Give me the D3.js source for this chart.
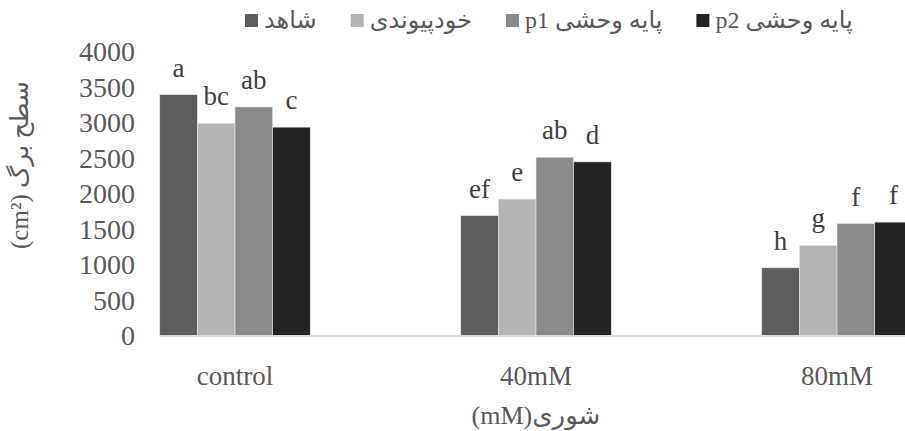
<!DOCTYPE html>
<html>
<head>
<meta charset="utf-8">
<script src="https://cdn.jsdelivr.net/npm/d3@7"></script>
<style>
	body { margin: 0; background: #fff; }
	svg { display: block; }
	svg text { font-family: 'Liberation Serif', 'DejaVu Sans', serif; }
</style>
</head>
<body>
<svg id="chart" width="905" height="431"></svg>
<script>
'use strict'

const categories = ['control', '40mM', '80mM']
const seriesNames = ['شاهد', 'خودپیوندی', 'p1 پایه وحشی', 'p2 پایه وحشی']
const seriesColors = ['#5d5d5d', '#b4b4b4', '#8a8a8a', '#232323']
const values = [
	[3400, 2995, 3225, 2940],
	[1690, 1925, 2515, 2450],
	[955, 1270, 1580, 1600]
]
const letters = [
	['a', 'bc', 'ab', 'c'],
	['ef', 'e', 'ab', 'd'],
	['h', 'g', 'f', 'f']
]
const yTicks = [0, 500, 1000, 1500, 2000, 2500, 3000, 3500, 4000]

const W = 905
const params = {
	fontSize: 27,
	textColor: '#595959',
	letterColor: '#404040',
	axisColor: '#d9d9d9'
}

const svg = d3.select('#chart')

const y = d3.scaleLinear().domain([0, 4000]).range([335.5, 52])
const x0 = d3.scaleBand()
	.domain(categories)
	.range([84.5, 987.5])
	.paddingInner(0.5)
	.paddingOuter(0.25)
const x1 = d3.scaleBand()
	.domain(d3.range(seriesNames.length))
	.range([0, x0.bandwidth()])

// bars
const groups = svg.append('g')
	.selectAll('g')
	.data(categories)
	.join('g')
	.attr('transform', (c) => `translate(${x0(c)},0)`)

groups.selectAll('rect')
	.data((c, i) => values[i].map((v, j) => ({v, j})))
	.join('rect')
	.attr('x', (d) => x1(d.j))
	.attr('y', (d) => y(d.v))
	.attr('width', x1.bandwidth())
	.attr('height', (d) => y(0) - y(d.v))
	.attr('fill', (d) => seriesColors[d.j])
	.attr('stroke', '#e6e6e6')
	.attr('stroke-width', 0.6)

// significance letters
groups.selectAll('text')
	.data((c, i) => values[i].map((v, j) => ({v, j, t: letters[i][j]})))
	.join('text')
	.attr('x', (d) => x1(d.j) + x1.bandwidth() / 2)
	.attr('y', (d) => y(d.v) - 18)
	.attr('text-anchor', 'middle')
	.attr('font-size', params.fontSize)
	.attr('fill', params.letterColor)
	.text((d) => d.t)

// x axis line (starts at first group like the original)
svg.append('line')
	.attr('x1', x0(categories[0]))
	.attr('x2', W)
	.attr('y1', y(0) + 0.5)
	.attr('y2', y(0) + 0.5)
	.attr('stroke', params.axisColor)
	.attr('stroke-width', 2)

// category labels
const xAxis = svg.append('g')
	.attr('transform', `translate(0,${y(0)})`)
	.call(d3.axisBottom(x0).tickSize(0).tickPadding(30))
	.attr('font-family', null)
	.attr('font-size', params.fontSize)
xAxis.select('.domain').remove()
xAxis.selectAll('text')
	.attr('fill', params.textColor)

// y axis labels
const yAxis = svg.append('g')
	.attr('transform', 'translate(143,0)')
	.call(d3.axisLeft(y).tickValues(yTicks).tickFormat(d3.format('d')).tickSize(0).tickPadding(8))
	.attr('font-family', null)
	.attr('font-size', 28)
yAxis.select('.domain').remove()
yAxis.selectAll('text')
	.attr('fill', params.textColor)

// axis titles
svg.append('text')
	.attr('transform', 'translate(28,165) rotate(-90)')
	.attr('text-anchor', 'middle')
	.attr('font-size', 25)
	.attr('fill', params.textColor)
	.text('(cm²) سطح برگ')

svg.append('text')
	.attr('x', x0(categories[1]) + x0.bandwidth() / 2)
	.attr('y', 424)
	.attr('text-anchor', 'middle')
	.attr('font-size', 26)
	.attr('fill', params.textColor)
	.text('(mM)شوری')

// legend
let lx = 245
seriesNames.forEach((name, i) => {
	svg.append('rect')
		.attr('x', lx)
		.attr('y', 14)
		.attr('width', 13)
		.attr('height', 13)
		.attr('fill', seriesColors[i])
	const t = svg.append('text')
		.attr('x', lx + 19)
		.attr('y', 28)
		.attr('font-size', 24)
		.attr('fill', params.textColor)
		.text(name)
	lx += 19 + t.node().getComputedTextLength() + 34
})
</script>
</body>
</html>
